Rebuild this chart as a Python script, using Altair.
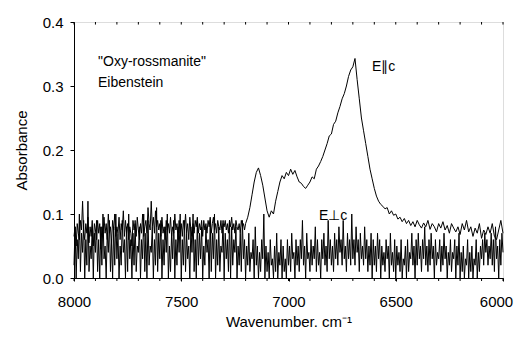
import altair as alt
import pandas as pd

# Wavenumber grids (cm-1)
PAR_WN = list(range(8000, 7199, -5)) + list(range(7190, 5999, -10))
PERP_WN = list(range(8000, 5999, -5))

# E||c spectrum (absorbance)
E_PAR = [
    0.065, 0.08, 0.05, 0.085, 0.07, 0.06, 0.09, 0.075, 0.12, 0.07,
    0.06, 0.085, 0.07, 0.095, 0.055, 0.08, 0.065, 0.09, 0.05, 0.085,
    0.075, 0.06, 0.09, 0.07, 0.085, 0.045, 0.08, 0.065, 0.095, 0.07,
    0.085, 0.06, 0.1, 0.07, 0.08, 0.055, 0.09, 0.075, 0.1, 0.065,
    0.08, 0.07, 0.095, 0.06, 0.085, 0.075, 0.105, 0.065, 0.09, 0.07,
    0.085, 0.06, 0.08, 0.07, 0.05, 0.09, 0.075, 0.085, 0.065, 0.095,
    0.075, 0.06, 0.085, 0.07, 0.1, 0.065, 0.08, 0.09, 0.07, 0.11,
    0.085, 0.075, 0.12, 0.08, 0.095, 0.07, 0.105, 0.08, 0.09, 0.075,
    0.085, 0.065, 0.095, 0.07, 0.08, 0.06, 0.09, 0.075, 0.085, 0.07,
    0.095, 0.065, 0.08, 0.07, 0.1, 0.075, 0.085, 0.06, 0.09, 0.07,
    0.085, 0.065, 0.09, 0.075, 0.1, 0.07, 0.085, 0.06, 0.095, 0.075,
    0.065, 0.085, 0.07, 0.09, 0.08, 0.095, 0.07, 0.085, 0.075, 0.09,
    0.065, 0.09, 0.075, 0.085, 0.07, 0.09, 0.08, 0.095, 0.07, 0.085,
    0.095, 0.075, 0.085, 0.07, 0.09, 0.08, 0.075, 0.09, 0.07, 0.085,
    0.08, 0.09, 0.075, 0.085, 0.07, 0.09, 0.08, 0.095, 0.075, 0.085,
    0.07, 0.09, 0.08, 0.075, 0.085, 0.07, 0.09, 0.08, 0.085, 0.075,
    0.085,
    0.095, 0.11, 0.13, 0.15, 0.165, 0.172, 0.16, 0.145, 0.125,
    0.105, 0.095, 0.105, 0.1, 0.12, 0.135, 0.15, 0.16, 0.155, 0.165,
    0.16, 0.17, 0.162, 0.168, 0.158, 0.15, 0.148, 0.143, 0.14, 0.145,
    0.15, 0.158, 0.155, 0.17, 0.175, 0.182, 0.19, 0.2, 0.21, 0.222,
    0.225, 0.24, 0.245, 0.258, 0.268, 0.28, 0.288, 0.3, 0.315, 0.325,
    0.33, 0.343, 0.31, 0.28, 0.25, 0.23, 0.21, 0.19, 0.17, 0.155,
    0.14, 0.128, 0.12, 0.115, 0.112, 0.108, 0.11, 0.1, 0.105, 0.098,
    0.1, 0.092, 0.095, 0.088, 0.093, 0.085, 0.09, 0.082, 0.088, 0.08,
    0.09, 0.083, 0.078, 0.086, 0.08, 0.09, 0.076, 0.085, 0.08, 0.072,
    0.085, 0.078, 0.088, 0.075, 0.082, 0.07, 0.085, 0.078, 0.072, 0.08,
    0.068, 0.085, 0.075, 0.09, 0.072, 0.08, 0.065, 0.078, 0.07, 0.085,
    0.062, 0.075, 0.068, 0.08, 0.07, 0.085, 0.065, 0.06, 0.075, 0.09,
    0.07,
]

# E⊥c spectrum (absorbance)
E_PERP = [
    0.02, 0.08, 0.0, 0.06, 0.03, 0.1, 0.01, 0.07, 0.04, 0.09,
    0.0, 0.06, 0.02, 0.12, 0.01, 0.05, 0.03, 0.08, 0.0, 0.07,
    0.04, 0.09, 0.01, 0.06, 0.0, 0.08, 0.02, 0.1, 0.03, 0.05,
    0.0, 0.07, 0.04, 0.09, 0.01, 0.06, 0.0, 0.08, 0.02, 0.1,
    0.03, 0.07, 0.0, 0.05, 0.02, 0.09, 0.04, 0.06, 0.0, 0.08,
    0.01, 0.1, 0.03, 0.06, 0.0, 0.07, 0.02, 0.09, 0.01, 0.05,
    0.04, 0.08, 0.0, 0.06, 0.03, 0.1, 0.01, 0.07, 0.0, 0.09,
    0.02, 0.05, 0.04, 0.08, 0.0, 0.06, 0.02, 0.11, 0.01, 0.07,
    0.03, 0.09, 0.0, 0.06, 0.02, 0.08, 0.04, 0.1, 0.0, 0.05,
    0.01, 0.07, 0.03, 0.09, 0.0, 0.06, 0.02, 0.08, 0.04, 0.1,
    0.0, 0.06, 0.02, 0.09, 0.01, 0.07, 0.03, 0.05, 0.0, 0.08,
    0.04, 0.1, 0.01, 0.06, 0.0, 0.09, 0.02, 0.07, 0.03, 0.08,
    0.0, 0.05, 0.02, 0.08, 0.04, 0.06, 0.0, 0.09, 0.01, 0.07,
    0.03, 0.1, 0.0, 0.06, 0.02, 0.08, 0.01, 0.05, 0.04, 0.09,
    0.0, 0.07, 0.03, 0.06, 0.01, 0.09, 0.0, 0.08, 0.02, 0.06,
    0.04, 0.08, 0.0, 0.05, 0.02, 0.07, 0.01, 0.09, 0.03, 0.06,
    0.0, 0.05, 0.02, 0.07, 0.01, 0.04, 0.03, 0.06, 0.0, 0.08,
    0.02, 0.05, 0.0, 0.04, 0.01, 0.06, 0.03, 0.1, 0.0, 0.05,
    0.01, 0.04, 0.0, 0.06, 0.02, 0.03, 0.0, 0.05, 0.01, 0.07,
    0.0, 0.04, 0.02, 0.06, 0.0, 0.05, 0.01, 0.03, 0.0, 0.06,
    0.02, 0.05, 0.01, 0.07, 0.03, 0.04, 0.0, 0.06, 0.02, 0.05,
    0.01, 0.06, 0.03, 0.09, 0.02, 0.05, 0.0, 0.07, 0.03, 0.04,
    0.01, 0.06, 0.02, 0.05, 0.03, 0.08, 0.01, 0.06, 0.02, 0.04,
    0.0, 0.06, 0.03, 0.07, 0.02, 0.05, 0.01, 0.09, 0.03, 0.06,
    0.02, 0.05, 0.01, 0.07, 0.03, 0.06, 0.02, 0.08, 0.04, 0.06,
    0.02, 0.09, 0.03, 0.05, 0.01, 0.07, 0.03, 0.06, 0.02, 0.1,
    0.03, 0.06, 0.02, 0.08, 0.04, 0.06, 0.01, 0.07, 0.03, 0.05,
    0.02, 0.08, 0.03, 0.06, 0.01, 0.05, 0.02, 0.07, 0.0, 0.06,
    0.02, 0.05, 0.01, 0.07, 0.03, 0.06, 0.0, 0.05, 0.02, 0.04,
    0.01, 0.06, 0.03, 0.05, 0.0, 0.07, 0.02, 0.04, 0.01, 0.06,
    0.0, 0.05, 0.02, 0.04, 0.01, 0.06, 0.0, 0.03, 0.02, 0.05,
    0.0, 0.06, 0.01, 0.04, 0.03, 0.07, 0.02, 0.05, 0.0, 0.06,
    0.02, 0.07, 0.03, 0.05, 0.01, 0.06, 0.03, 0.08, 0.02, 0.05,
    0.01, 0.06, 0.02, 0.07, 0.03, 0.05, 0.0, 0.06, 0.02, 0.04,
    0.03, 0.06, 0.01, 0.05, 0.02, 0.07, 0.03, 0.05, 0.0, 0.04,
    0.02, 0.06, 0.01, 0.04, 0.03, 0.06, 0.0, 0.05, 0.02, 0.07,
    0.0, 0.04, 0.01, 0.05, 0.0, 0.03, 0.02, 0.06, 0.0, 0.04,
    0.01, 0.05, 0.0, 0.03, 0.02, 0.06, 0.0, 0.04, 0.01, 0.05,
    0.03, 0.06, 0.02, 0.07, 0.04, 0.06, 0.02, 0.05, 0.03, 0.07,
    0.02, 0.06, 0.01, 0.08, 0.03, 0.05, 0.0, 0.06, 0.02, 0.07,
    0.04,
]

X_LABELS = [8000, 7500, 7000, 6500, 6000]
X_MINOR = list(range(8000, 5999, -100))
Y_TICKS = [0.0, 0.1, 0.2, 0.3, 0.4]

ANNOT_TEXT = ['"Oxy-rossmanite"', "Eibenstein", "E\u2225c", "E\u22a5c"]
ANNOT_X = [7888, 7888, 6611, 6858]
ANNOT_Y = [0.3375, 0.3047, 0.33, 0.097]

FONT = "Liberation Sans"

n1 = min(len(PAR_WN), len(E_PAR))
n2 = min(len(PERP_WN), len(E_PERP))
df = pd.concat([
    pd.DataFrame({"wn": PAR_WN[:n1], "a": E_PAR[:n1], "s": "par"}),
    pd.DataFrame({"wn": PERP_WN[:n2], "a": E_PERP[:n2], "s": "perp"}),
])

xscale = alt.Scale(domain=[6000, 8000], reverse=True, nice=False, zero=False)
yscale = alt.Scale(domain=[0, 0.4], nice=False)

lines = alt.Chart(df).mark_line(color="black", strokeWidth=1).encode(
    x=alt.X("wn:Q", scale=xscale,
            axis=alt.Axis(values=X_LABELS, format="d", title="Wavenumber. cm\u207b\u00b9",
                          tickSize=3, labelPadding=13, titlePadding=5, grid=False,
                          labelOverlap=False, labelFlush=False,
                          labelOffset={"condition": {"test": "datum.value == 6000", "value": -7}, "value": 0},
                          domainColor="black", tickColor="black", labelColor="black",
                          titleColor="black", labelFontSize=15, titleFontSize=15,
                          titleFontWeight="normal", labelFont=FONT, titleFont=FONT)),
    y=alt.Y("a:Q", scale=yscale,
            axis=alt.Axis(values=Y_TICKS, format=".1f", title="Absorbance", tickSize=4,
                          labelPadding=7, titlePadding=13, grid=False,
                          labelOverlap=False, labelFlush=False,
                          domainColor="black", tickColor="black", labelColor="black",
                          titleColor="black", labelFontSize=15, titleFontSize=15,
                          titleFontWeight="normal", labelFont=FONT, titleFont=FONT)),
    detail="s:N",
)

top_ticks = alt.Chart(pd.DataFrame({"wn": X_MINOR})).mark_rule(color="black", strokeWidth=1).encode(
    x=alt.X("wn:Q", scale=xscale),
    y=alt.datum(0.4),
    y2=alt.datum(0.396),
)

bottom_ticks = alt.Chart(pd.DataFrame({"wn": X_MINOR})).mark_rule(color="black", strokeWidth=1).encode(
    x=alt.X("wn:Q", scale=xscale),
    y=alt.datum(0.0),
    y2=alt.datum(-0.0047),
)

annot = alt.Chart(pd.DataFrame({"t": ANNOT_TEXT, "x": ANNOT_X, "y": ANNOT_Y})).mark_text(
    align="left", baseline="middle", fontSize=14, font=FONT, color="black"
).encode(
    x=alt.X("x:Q", scale=xscale),
    y=alt.Y("y:Q", scale=yscale),
    text="t:N",
)

chart = alt.layer(lines, top_ticks, bottom_ticks, annot).properties(
    width=429, height=256,
    autosize=alt.AutoSizeParams(type="none"),
    padding={"left": 66, "top": 14, "right": 11, "bottom": 51},
).configure_view(stroke="black", strokeWidth=1).configure(background="white")

chart.save("out.html", embed_options={"renderer": "svg", "actions": False})
